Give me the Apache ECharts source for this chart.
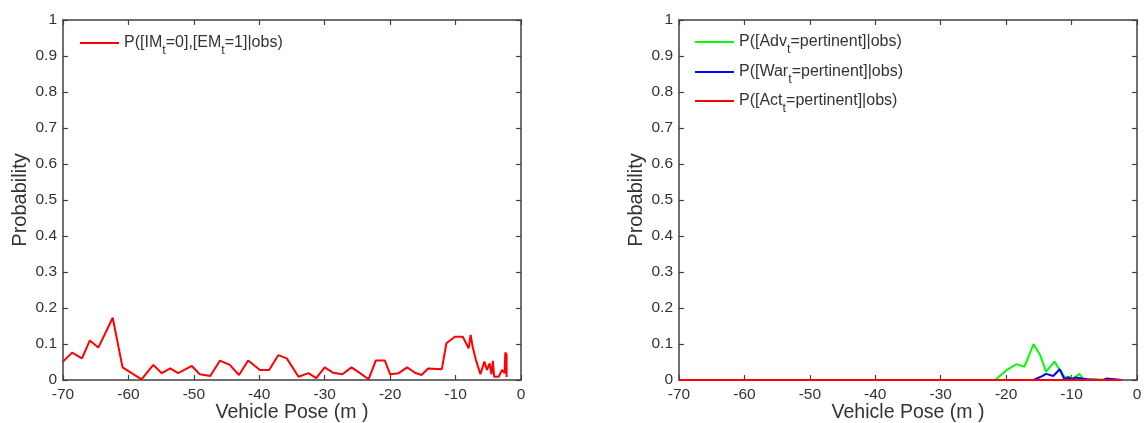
<!DOCTYPE html>
<html>
<head>
<meta charset="utf-8">
<script src="https://cdn.jsdelivr.net/npm/echarts@6/dist/echarts.min.js"></script>
<style>
html,body{margin:0;padding:0;background:#fff;}
#c{width:1146px;height:423px;}
</style>
</head>
<body>
<div id="c"></div>
<script>
// ---- data ----
var xTicks = [-70, -60, -50, -40, -30, -20, -10, 0];
var yTicks = [0, 0.1, 0.2, 0.3, 0.4, 0.5, 0.6, 0.7, 0.8, 0.9, 1];

var emX = [-70, -68.6, -67.1, -65.9, -64.6, -62.4, -60.9, -59.5, -58, -56.2, -54.9, -53.6, -52.4, -50.3, -49.1, -47.5, -46, -44.5, -43.1, -41.7, -39.9, -38.5, -37.1, -35.8, -34, -32.5, -31.3, -30, -28.7, -27.3, -25.9, -24.6, -23.3, -22.2, -20.8, -20, -18.7, -17.4, -16.2, -15.2, -14.2, -12.1, -11.4, -10.1, -8.9, -8, -7.7, -7.4, -6.9, -6.2, -5.6, -5.2, -4.8, -4.5, -4.3, -4.1, -3.4, -2.9, -2.5, -2.4, -2.2, -2.2];
var emY = [0.051, 0.076, 0.06, 0.11, 0.09, 0.173, 0.035, 0.019, 0.002, 0.042, 0.019, 0.032, 0.019, 0.039, 0.016, 0.011, 0.054, 0.042, 0.014, 0.054, 0.028, 0.028, 0.069, 0.06, 0.009, 0.019, 0.005, 0.035, 0.02, 0.016, 0.035, 0.019, 0.002, 0.054, 0.054, 0.016, 0.019, 0.035, 0.02, 0.014, 0.032, 0.03, 0.102, 0.12, 0.12, 0.088, 0.125, 0.093, 0.056, 0.016, 0.051, 0.028, 0.046, 0.016, 0.053, 0.009, 0.009, 0.028, 0.019, 0.076, 0.07, 0.008];

var advX = [-70, -21.7, -19.9, -18.4, -17.2, -15.8, -14.8, -13.9, -12.6, -11.9, -11, -10.5, -9.7, -8.8, -8.2, -2.3];
var advY = [0, 0, 0.028, 0.044, 0.037, 0.1, 0.069, 0.023, 0.051, 0.03, 0.007, 0.009, 0.005, 0.017, 0.002, 0];

var warX = [-70, -15.8, -14.5, -13.9, -12.8, -11.8, -11.1, -10.5, -9.9, -9.4, -9.1, -7.6, -5.7, -5.4, -5.1, -4.9, -4.7, -4.4, -2.3];
var warY = [0, 0, 0.011, 0.017, 0.011, 0.03, 0.002, 0.007, 0.002, 0.007, 0.002, 0.002, 0, 0.004, 0, 0, 0.004, 0, 0];

var actX = [-70, -2.3];
var actY = [0, 0];

var legendLeft = ['P([IM{s|t}=0],[EM{s|t}=1]|obs)'];
var legendRight = ['P([Adv{s|t}=pertinent]|obs)', 'P([War{s|t}=pertinent]|obs)', 'P([Act{s|t}=pertinent]|obs)'];

// ---- build ----
function zip(xs, ys) { return xs.map(function (x, i) { return [x, ys[i]]; }); }

var FONT = 'Liberation Sans, Arial, sans-serif';
var TXT = '#333333';
var AX = '#404040';

var grids = [
  { left: 63, top: 20, width: 458, height: 360, containLabel: false, outerBoundsMode: 'none' },
  { left: 679, top: 20, width: 458, height: 360, containLabel: false, outerBoundsMode: 'none' }
];

function xAx(gi, pos, showLabel) {
  return {
    type: 'value', gridIndex: gi, position: pos, min: xTicks[0], max: xTicks[xTicks.length - 1], interval: 10,
    axisLine: { show: true, onZero: false, lineStyle: { color: AX, width: 1.5 } },
    axisTick: { show: true, inside: true, length: 5, lineStyle: { color: AX, width: 1.2 } },
    axisLabel: { show: showLabel, color: TXT, fontSize: 15.5, fontFamily: FONT, margin: 7 },
    splitLine: { show: false },
    name: showLabel ? 'Vehicle Pose (m )' : '', nameLocation: 'middle', nameGap: 23, nameMoveOverlap: false,
    nameTextStyle: { color: TXT, fontSize: 19.5, fontFamily: FONT }
  };
}
function yAx(gi, pos, showLabel) {
  return {
    type: 'value', gridIndex: gi, position: pos, min: yTicks[0], max: yTicks[yTicks.length - 1], interval: 0.1,
    axisLine: { show: true, onZero: false, lineStyle: { color: AX, width: 1.5 } },
    axisTick: { show: true, inside: true, length: 5, lineStyle: { color: AX, width: 1.2 } },
    axisLabel: { show: showLabel, color: TXT, fontSize: 15.5, fontFamily: FONT, margin: 6,
      formatter: function (v) { return String(Math.round(v * 10) / 10); } },
    splitLine: { show: false },
    name: showLabel ? 'Probability' : '', nameLocation: 'middle', nameGap: 33, nameMoveOverlap: false,
    nameTextStyle: { color: TXT, fontSize: 20, fontFamily: FONT }
  };
}

var rich = {
  s: { fontSize: 12.5, fontFamily: FONT, color: TXT, padding: [16, 0, 0, 0], verticalAlign: 'bottom' }
};
function legend(name, left, top, label) {
  return {
    data: [name], left: left, top: top, orient: 'vertical',
    itemWidth: 39, itemHeight: 14, itemGap: 4, padding: 0,
    icon: 'path://M0,6 L40,6 L40,8 L0,8 Z',
    formatter: function () { return label; },
    textStyle: { color: TXT, fontSize: 16, fontFamily: FONT, rich: rich, verticalAlign: 'top', padding: [0, 0, 0, 0] }
  };
}

var option = {
  animation: false,
  backgroundColor: '#ffffff',
  grid: grids,
  xAxis: [xAx(0, 'bottom', true), xAx(0, 'top', false), xAx(1, 'bottom', true), xAx(1, 'top', false)],
  yAxis: [yAx(0, 'left', true), yAx(0, 'right', false), yAx(1, 'left', true), yAx(1, 'right', false)],
  legend: [
    legend('em', 80, 35, legendLeft[0]),
    legend('adv', 695, 34, legendRight[0]),
    legend('war', 695, 64, legendRight[1]),
    legend('act', 695, 93, legendRight[2])
  ],
  series: [
    { name: 'em', type: 'line', xAxisIndex: 0, yAxisIndex: 0, data: zip(emX, emY), symbol: 'none',
      lineStyle: { color: '#ff0000', width: 2 }, itemStyle: { color: '#ff0000' } },
    { name: 'adv', type: 'line', xAxisIndex: 2, yAxisIndex: 2, data: zip(advX, advY), symbol: 'none',
      lineStyle: { color: '#00ff00', width: 2 }, itemStyle: { color: '#00ff00' } },
    { name: 'war', type: 'line', xAxisIndex: 2, yAxisIndex: 2, data: zip(warX, warY), symbol: 'none',
      lineStyle: { color: '#0000ff', width: 2 }, itemStyle: { color: '#0000ff' } },
    { name: 'act', type: 'line', xAxisIndex: 2, yAxisIndex: 2, data: zip(actX, actY), symbol: 'none',
      lineStyle: { color: '#ff0000', width: 2 }, itemStyle: { color: '#ff0000' } }
  ]
};

var chart = echarts.init(document.getElementById('c'), null, { renderer: 'canvas' });
chart.setOption(option);
</script>
</body>
</html>
